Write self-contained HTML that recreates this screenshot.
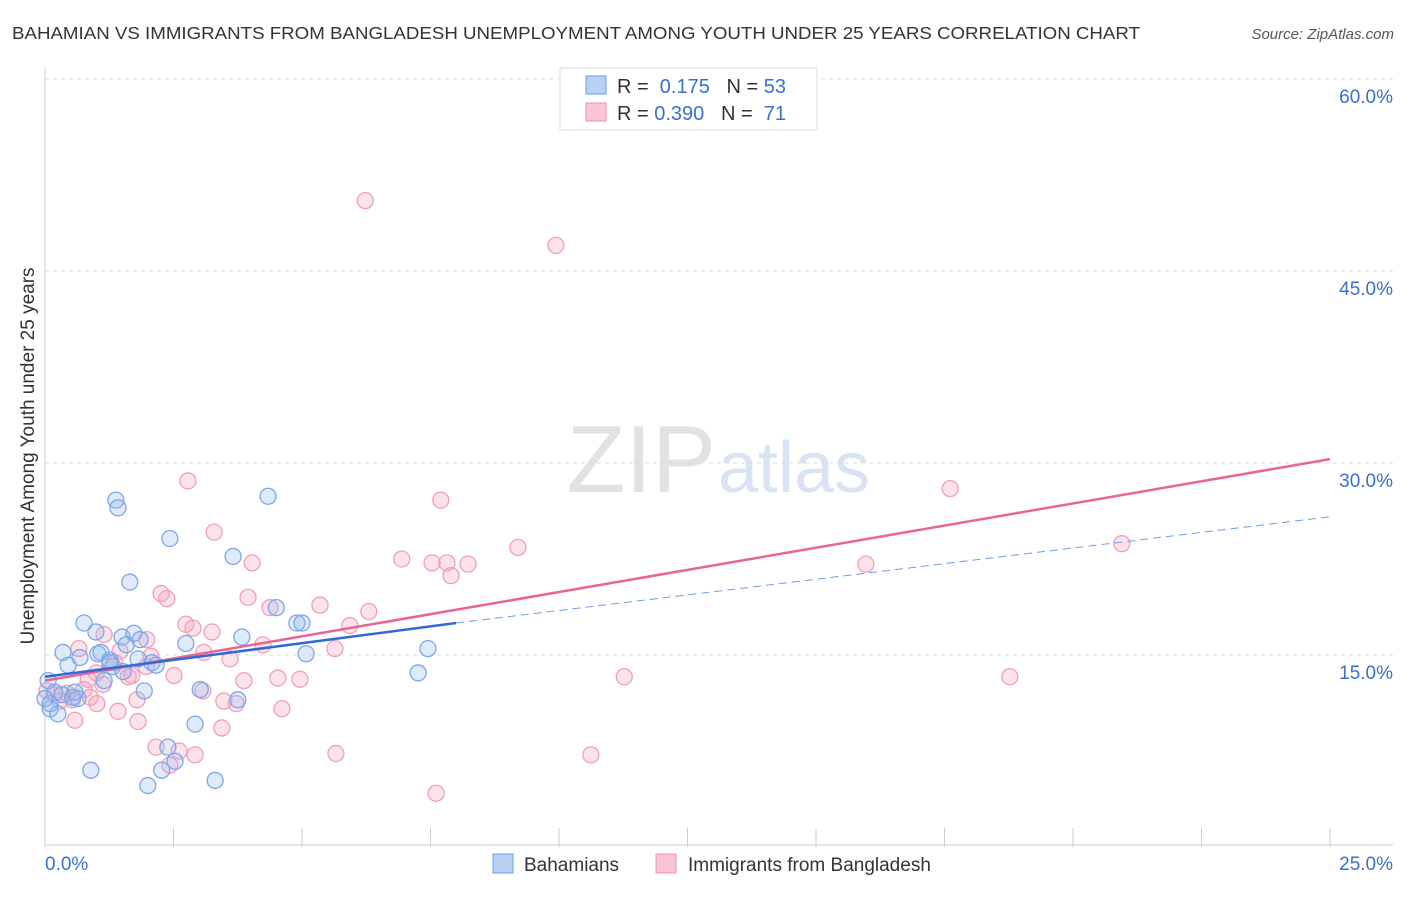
<!DOCTYPE html>
<html><head><meta charset="utf-8"><style>
body{margin:0;background:#fff;font-family:"Liberation Sans",sans-serif;}
svg text{font-family:"Liberation Sans",sans-serif;}
</style></head><body>
<svg id="c" width="1406" height="892">
<text x="12" y="39" font-size="17.5" fill="#333" textLength="1128" lengthAdjust="spacingAndGlyphs">BAHAMIAN VS IMMIGRANTS FROM BANGLADESH UNEMPLOYMENT AMONG YOUTH UNDER 25 YEARS CORRELATION CHART</text>
<text x="1394" y="39" font-size="15" fill="#555" font-style="italic" text-anchor="end">Source: ZipAtlas.com</text>
<text x="34" y="456" font-size="19" fill="#333" text-anchor="middle" transform="rotate(-90 34 456)">Unemployment Among Youth under 25 years</text>
<text x="716" y="492" font-size="96" fill="#e2e2e2" text-anchor="end" font-family="Liberation Serif">ZIP</text>
<text x="718" y="492" font-size="72" fill="#d8e4f4">atlas</text>
<g id="grid"></g><g id="pts"></g><g id="lines"></g>
<g>
<rect x="560" y="68" width="257" height="62" fill="#fff" stroke="#ddd"/>
<rect x="586" y="76" width="20" height="18" fill="#b8d0f4" stroke="#6d9de6"/>
<rect x="586" y="103" width="20" height="18" fill="#f9c4d4" stroke="#ee93b0"/>
<text x="617" y="93" font-size="20" fill="#333">R = <tspan fill="#3a6fd0">&#160;0.175</tspan>&#160;&#160;&#160;N = <tspan fill="#3a6fd0">53</tspan></text>
<text x="617" y="120" font-size="20" fill="#333">R = <tspan fill="#3a6fd0">0.390</tspan>&#160;&#160;&#160;N = <tspan fill="#3a6fd0">&#160;71</tspan></text>
</g>
<g>
<rect x="493" y="854" width="20" height="19" fill="#b8d0f4" stroke="#6d9de6"/>
<text x="524" y="871" font-size="19" fill="#333">Bahamians</text>
<rect x="656" y="854" width="20" height="19" fill="#f9c4d4" stroke="#ee93b0"/>
<text x="688" y="871" font-size="19" fill="#333">Immigrants from Bangladesh</text>
</g>
<text x="45" y="870" font-size="19" fill="#3a6fd0">0.0%</text>
<text x="1393" y="870" font-size="19" fill="#3a6fd0" text-anchor="end">25.0%</text>
</svg>
<script>
const yTicks=[15,30,45,60];
const yTickLabels=["15.0%","30.0%","45.0%","60.0%"];
const xTicks=[0,2.5,5,7.5,10,12.5,15,17.5,20,22.5,25];
const bahX=[1.38,1.42,4.34,2.43,3.66,1.65,0.76,0.99,1.5,1.73,2.74,3.83,4.5,4.9,5.0,7.45,5.08,0.35,0.45,0.68,1.03,1.09,1.26,1.32,1.58,1.81,2.08,2.16,0.06,0.19,0.33,0.54,0.64,0.58,0.1,0.25,1.15,1.93,3.02,3.75,2.92,2.39,7.26,0.89,2.27,2.53,2.0,3.31,0.1,0,1.52,1.26,1.85];
const bahY=[27.1,26.5,27.4,24.1,22.7,20.7,17.5,16.8,16.4,16.7,15.9,16.4,18.7,17.5,17.5,15.5,15.1,15.2,14.2,14.8,15.1,15.2,14.6,14.1,15.8,14.7,14.4,14.2,13.0,12.1,11.9,11.7,11.6,12.1,10.8,10.4,13.0,12.2,12.3,11.5,9.6,7.8,13.6,6.0,6.0,6.7,4.8,5.2,11.2,11.6,13.7,14.4,16.2];
const banX=[6.23,9.94,2.78,7.7,17.61,3.29,4.03,6.94,7.53,7.82,7.9,8.23,9.2,15.97,20.95,2.26,2.37,3.95,4.38,5.35,6.3,2.74,2.88,3.25,5.93,1.15,0.66,1.98,1.46,4.24,5.64,3.09,3.6,2.06,2.51,1.0,0.84,4.53,4.96,11.27,18.77,0.04,0.19,0.43,0.76,1.13,1.62,3.07,3.48,3.72,3.87,4.61,1.01,1.42,1.79,0.58,1.81,3.44,2.16,2.61,2.92,5.66,10.62,2.43,7.61,0.29,0.53,1.36,1.69,1.97,0.88];
const banY=[50.5,47.0,28.6,27.1,28.0,24.6,22.2,22.5,22.2,22.2,21.2,22.1,23.4,22.1,23.7,19.8,19.4,19.5,18.7,18.9,18.4,17.4,17.1,16.8,17.3,16.6,15.5,16.2,15.3,15.8,15.5,15.2,14.7,14.9,13.4,13.6,13.1,13.2,13.1,13.3,13.3,12.2,11.9,12.0,12.3,12.7,13.3,12.2,11.4,11.2,13.0,10.8,11.2,10.6,11.5,9.9,9.8,9.3,7.8,7.5,7.2,7.3,7.2,6.4,4.2,11.4,11.5,14.4,13.4,14.1,11.7];
const bahTrend=[[0,13.3],[8.0,17.5]], bahDash=[[8.0,17.5],[25,25.8]], banTrend=[[0,13.0],[25,30.3]];
const L=45,R=1330,B=847,T=79;
const xs=v=>L+v/25*(R-L), ys=v=>B-v/60*(B-T);
const NS="http://www.w3.org/2000/svg";
function mk(t,a,p){const e=document.createElementNS(NS,t);for(const k in a)e.setAttribute(k,a[k]);p.appendChild(e);return e;}
const g=document.getElementById('grid');
yTicks.forEach((t,i)=>{
 const l=mk('line',{x1:L,x2:1393,y1:ys(t),y2:ys(t),stroke:'#ddd','stroke-dasharray':'4,4'},g);
 
 
 const tx=mk('text',{x:1393,y:ys(t)+24,'font-size':19,fill:'#3a6fd0','text-anchor':'end'},g);
 tx.textContent=yTickLabels[i];
 
 
});
mk('line',{x1:L,x2:1393,y1:B-2,y2:B-2,stroke:'#ccc'},g);
mk('line',{x1:L,x2:L,y1:67,y2:B,stroke:'#ccc'},g);
xTicks.forEach(t=>{const l=mk('line',{x1:xs(t),x2:xs(t),y1:828,y2:B,stroke:'#ccc'},g);
 
 });
const p=document.getElementById('pts');
banX.forEach((x,i)=>{const c=mk('circle',{cx:xs(x),cy:ys(banY[i]),r:8,fill:'rgba(244,160,188,0.3)',stroke:'#eea0b8','stroke-width':1.3},p);
 
 });
bahX.forEach((x,i)=>{const c=mk('circle',{cx:xs(x),cy:ys(bahY[i]),r:8,fill:'rgba(150,186,238,0.3)',stroke:'#7ea6e6','stroke-width':1.3},p);
 
 });
const ln=document.getElementById('lines');
const t1=mk('line',{x1:xs(banTrend[0][0]),y1:ys(banTrend[0][1]),x2:xs(banTrend[1][0]),y2:ys(banTrend[1][1]),stroke:'#e86592','stroke-width':2.5},ln);


const t2=mk('line',{x1:xs(bahDash[0][0]),y1:ys(bahDash[0][1]),x2:xs(bahDash[1][0]),y2:ys(bahDash[1][1]),stroke:'#6d9de6','stroke-width':1,'stroke-dasharray':'8,5'},ln);


const t3=mk('line',{x1:xs(bahTrend[0][0]),y1:ys(bahTrend[0][1]),x2:xs(bahTrend[1][0]),y2:ys(bahTrend[1][1]),stroke:'#2f6bd6','stroke-width':2.5},ln);


</script>
</body></html>
